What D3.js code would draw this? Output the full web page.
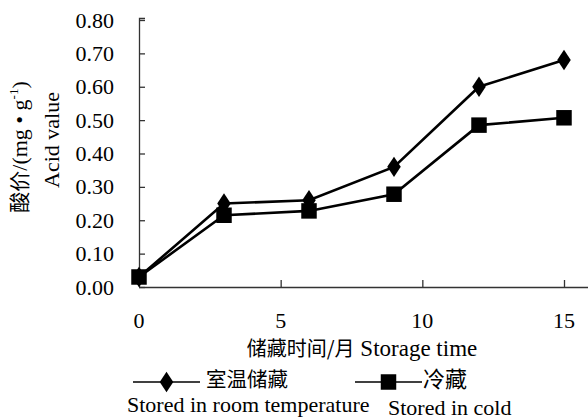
<!DOCTYPE html>
<html><head><meta charset="utf-8">
<script src="https://cdn.jsdelivr.net/npm/d3@7"></script>
<style>body{margin:0;background:#fff}svg{display:block}</style>
</head><body>
<svg id="c" width="588" height="419"></svg>
<script>
const months = [0, 3, 6, 9, 12, 15];
const roomTemp = [0.03, 0.25, 0.26, 0.36, 0.60, 0.68];
const cold = [0.03, 0.215, 0.228, 0.278, 0.485, 0.507];
const yTicks = [0, 0.1, 0.2, 0.3, 0.4, 0.5, 0.6, 0.7, 0.8];
const xTicks = [0, 5, 10, 15];
const seriesNames = [["室温储藏", "Stored in room temperature"], ["冷藏", "Stored in cold"]];
const yTitleEn = "Acid value";

const svg = d3.select("#c");
const serif = "'Liberation Serif','Times New Roman',serif";
const cjk = "'Noto Sans CJK SC',sans-serif";
const x = d3.scaleLinear().domain([0, 15]).range([139, 564]);
const y = d3.scaleLinear().domain([0, 0.8]).range([287, 20]);

// axes
const yAxis = svg.append("g").attr("transform", "translate(139,0)")
  .call(d3.axisRight(y).tickValues(yTicks).tickSize(6).tickFormat(""));
yAxis.select(".domain").attr("d", "M6,18.5H0.5V287");
yAxis.selectAll("line,path").attr("stroke", "#333").attr("stroke-width", 1.3);
const xAxis = svg.append("g").attr("transform", "translate(0,287)")
  .call(d3.axisTop(x).tickValues(xTicks.filter(d => d > 0)).tickSize(7).tickFormat(""));
xAxis.select(".domain").attr("d", "M139,0.5H588");
xAxis.selectAll("line,path").attr("stroke", "#333").attr("stroke-width", 1.3);

// tick labels
svg.append("g").selectAll("text").data(yTicks).join("text")
  .attr("x", 114).attr("y", d => y(d) + 7.5).attr("text-anchor", "end")
  .attr("font-family", serif).attr("font-size", 22).text(d => d.toFixed(2));
svg.append("g").selectAll("text").data(xTicks).join("text")
  .attr("x", d => x(d)).attr("y", 328).attr("text-anchor", "middle")
  .attr("font-family", serif).attr("font-size", 22).text(d => d);

// axis titles
const yt = svg.append("text").attr("transform", "translate(27,147) rotate(-90)")
  .attr("text-anchor", "middle").attr("font-size", 22).attr("font-family", serif);
yt.append("tspan").attr("font-family", cjk).attr("font-size", 21).text("酸价");
yt.append("tspan").text("/(mg • g");
yt.append("tspan").attr("font-size", 13).attr("dy", -9).text("-1");
yt.append("tspan").attr("dy", 9).text(")");
svg.append("text").attr("transform", "translate(59,140) rotate(-90)")
  .attr("text-anchor", "middle").attr("font-size", 22).attr("font-family", serif).text(yTitleEn);

const xt = svg.append("text").attr("x", 362).attr("y", 356).attr("text-anchor", "middle")
  .attr("font-size", 23).attr("font-family", serif);
xt.append("tspan").attr("font-family", cjk).attr("font-size", 20).text("储藏时间/月");
xt.append("tspan").text("  Storage time");

// lines
const line = d3.line().x((d, i) => x(months[i])).y(d => y(d));
[roomTemp, cold].forEach(s => {
  svg.append("path").datum(s).attr("d", line).attr("fill", "none")
    .attr("stroke", "#000").attr("stroke-width", 2.6);
});
const diamond = d3.symbol().type(d3.symbolDiamond).size(120);
const square = d3.symbol().type(d3.symbolSquare).size(240);
svg.append("g").selectAll("path").data(roomTemp).join("path")
  .attr("transform", (d, i) => `translate(${x(months[i])},${y(d)}) scale(1.15,1)`)
  .attr("d", diamond()).attr("fill", "#000");
svg.append("g").selectAll("path").data(cold).join("path")
  .attr("transform", (d, i) => `translate(${x(months[i])},${y(d)})`)
  .attr("d", square()).attr("fill", "#000");

// legend
const leg = [{x0: 133, x1: 200, sym: diamond, sc: "scale(1.15,1)", tx: 206, ex: 127},
             {x0: 355, x1: 422, sym: square, sc: "", tx: 423, ex: 388}];
leg.forEach((l, i) => {
  svg.append("line").attr("x1", l.x0).attr("x2", l.x1).attr("y1", 382).attr("y2", 382)
    .attr("stroke", "#000").attr("stroke-width", 1.5);
  svg.append("path").attr("d", l.sym()).attr("fill", "#000")
    .attr("transform", `translate(${(l.x0 + l.x1) / 2},382) ${l.sc}`);
  svg.append("text").attr("x", l.tx).attr("y", 387).attr("font-family", cjk)
    .attr("font-size", i === 0 ? 20.5 : 22).text(seriesNames[i][0]);
  svg.append("text").attr("x", l.ex).attr("y", i === 0 ? 412 : 415).attr("font-family", serif)
    .attr("font-size", 22).text(seriesNames[i][1]);
});
</script>
</body></html>
